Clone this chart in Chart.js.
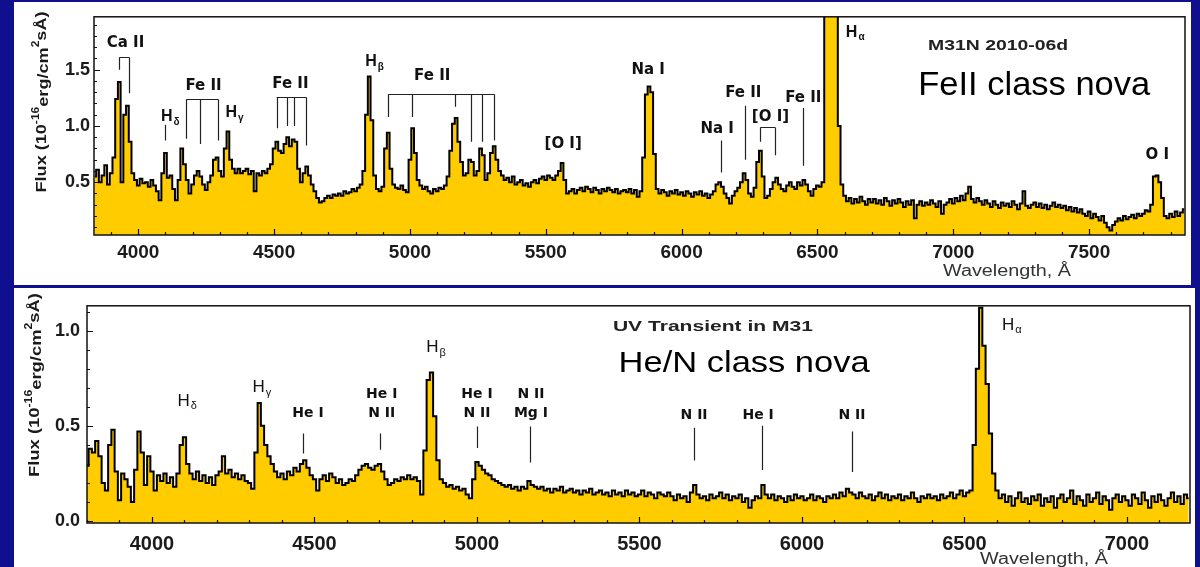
<!DOCTYPE html>
<html>
<head>
<meta charset="utf-8">
<script src="https://cdn.jsdelivr.net/npm/chart.js@4.4.0/dist/chart.umd.min.js"></script>
<style>
  html, body { margin: 0; padding: 0; }
  body { width: 1200px; height: 567px; background: #10108e; position: relative; overflow: hidden; }
  .panel { position: absolute; background: #fff; }
  #topPanel { left: 14px; top: 2px; width: 1177px; height: 283px; }
  #bottomPanel { left: 14px; top: 288px; width: 1181px; height: 279px; }
  canvas { display: block; }
</style>
</head>
<body>
<div class="panel" id="topPanel"><canvas id="topChart" width="1177" height="283"></canvas></div>
<div class="panel" id="bottomPanel"><canvas id="bottomChart" width="1181" height="279"></canvas></div>
<script>
// --- SPECTRUM DATA ---
// M31N 2010-06d, sampled every 10 A from 3840 A
const topStart = 3840, topStep = 10;
const topFlux = [
  0.55, 0.61, 0.50, 0.56, 0.65, 0.48, 0.58, 0.72, 1.24, 1.39,
  0.50, 1.10, 1.18, 0.86, 0.58, 0.52, 0.47, 0.53, 0.49, 0.50,
  0.46, 0.52, 0.47, 0.42, 0.34, 0.58, 0.76, 0.54, 0.56, 0.44,
  0.34, 0.52, 0.80, 0.66, 0.52, 0.40, 0.48, 0.56, 0.60, 0.55,
  0.48, 0.43, 0.50, 0.56, 0.70, 0.72, 0.60, 0.55, 0.80, 0.95,
  0.70, 0.62, 0.58, 0.62, 0.58, 0.60, 0.62, 0.57, 0.60, 0.42,
  0.58, 0.56, 0.60, 0.58, 0.62, 0.66, 0.80, 0.86, 0.78, 0.76,
  0.84, 0.90, 0.82, 0.88, 0.86, 0.62, 0.50, 0.58, 0.64, 0.56,
  0.48, 0.42, 0.36, 0.32, 0.33, 0.36, 0.38, 0.36, 0.39, 0.38,
  0.40, 0.38, 0.42, 0.40, 0.41, 0.44, 0.42, 0.45, 0.48, 0.60,
  1.10, 1.44, 1.05, 0.56, 0.44, 0.42, 0.46, 0.80, 0.94, 0.62,
  0.48, 0.45, 0.44, 0.47, 0.43, 0.41, 0.70, 0.98, 0.76, 0.52,
  0.47, 0.44, 0.46, 0.42, 0.40, 0.44, 0.42, 0.45, 0.44, 0.47,
  0.55, 0.78, 1.02, 1.07, 0.86, 0.68, 0.56, 0.58, 0.70, 0.68,
  0.56, 0.60, 0.80, 0.74, 0.52, 0.58, 0.76, 0.82, 0.70, 0.60,
  0.56, 0.52, 0.54, 0.50, 0.55, 0.48, 0.50, 0.52, 0.47, 0.49,
  0.46, 0.50, 0.52, 0.49, 0.53, 0.55, 0.52, 0.56, 0.54, 0.52,
  0.56, 0.60, 0.67, 0.52, 0.40, 0.42, 0.44, 0.40, 0.43, 0.45,
  0.42, 0.46, 0.44, 0.41, 0.45, 0.43, 0.40, 0.44, 0.42, 0.45,
  0.43, 0.41, 0.44, 0.40, 0.42, 0.43, 0.41, 0.44, 0.40, 0.43,
  0.37, 0.42, 0.72, 1.28, 1.35, 1.30, 0.75, 0.44, 0.40, 0.43,
  0.41, 0.38, 0.42, 0.40, 0.43, 0.39, 0.41, 0.38, 0.42, 0.40,
  0.37, 0.41, 0.39, 0.42, 0.38, 0.40, 0.36, 0.39, 0.42, 0.48,
  0.50, 0.46, 0.40, 0.36, 0.31, 0.38, 0.42, 0.45, 0.50, 0.58,
  0.52, 0.40, 0.37, 0.45, 0.68, 0.78, 0.55, 0.36, 0.38, 0.44,
  0.50, 0.54, 0.48, 0.44, 0.42, 0.47, 0.50, 0.46, 0.44, 0.50,
  0.47, 0.52, 0.48, 0.42, 0.38, 0.44, 0.47, 0.46, 0.50, 2.60,
  3.80, 4.20, 3.40, 2.30, 1.00, 0.48, 0.38, 0.33, 0.36, 0.31,
  0.35, 0.32, 0.37, 0.33, 0.30, 0.35, 0.32, 0.35, 0.31, 0.34,
  0.30, 0.36, 0.33, 0.29, 0.34, 0.31, 0.35, 0.32, 0.28, 0.33,
  0.30, 0.34, 0.18, 0.30, 0.33, 0.29, 0.32, 0.30, 0.34, 0.31,
  0.28, 0.33, 0.22, 0.30, 0.32, 0.35, 0.31, 0.36, 0.33, 0.38,
  0.34, 0.40, 0.46, 0.35, 0.32, 0.36, 0.33, 0.30, 0.34, 0.31,
  0.28, 0.33, 0.30, 0.27, 0.32, 0.29, 0.31, 0.28, 0.33, 0.30,
  0.26, 0.31, 0.42, 0.29, 0.27, 0.30, 0.32, 0.28, 0.31, 0.27,
  0.30, 0.26, 0.29, 0.32, 0.28, 0.30, 0.27, 0.29, 0.25, 0.28,
  0.24, 0.27, 0.23, 0.26, 0.22, 0.20, 0.24, 0.18, 0.22, 0.19,
  0.16, 0.20, 0.14, 0.10, 0.07, 0.12, 0.15, 0.18, 0.16, 0.20,
  0.17, 0.19, 0.21, 0.18, 0.22, 0.20, 0.22, 0.25, 0.24, 0.30,
  0.55, 0.56, 0.50, 0.36, 0.20, 0.18, 0.22, 0.19, 0.24, 0.20,
  0.23, 0.26
];
const topXTicks = [4000, 4500, 5000, 5500, 6000, 6500, 7000, 7500];
const topYTicks = [0.5, 1.0, 1.5];

// UV transient in M31, sampled every 10 A from 3800 A
const bottomStart = 3800, bottomStep = 10;
const bottomFlux = [
  0.29, 0.38, 0.36, 0.42, 0.34, 0.20, 0.16, 0.40, 0.48, 0.26,
  0.11, 0.25, 0.22, 0.18, 0.10, 0.27, 0.47, 0.36, 0.19, 0.34,
  0.26, 0.16, 0.24, 0.21, 0.25, 0.20, 0.23, 0.18, 0.25, 0.40,
  0.44, 0.30, 0.25, 0.22, 0.26, 0.21, 0.24, 0.20, 0.23, 0.19,
  0.24, 0.26, 0.34, 0.25, 0.27, 0.23, 0.25, 0.22, 0.24, 0.21,
  0.20, 0.17, 0.36, 0.62, 0.50, 0.40, 0.34, 0.30, 0.26, 0.23,
  0.25, 0.22, 0.26, 0.24, 0.28, 0.26, 0.30, 0.32, 0.28, 0.24,
  0.22, 0.16, 0.22, 0.24, 0.21, 0.25, 0.23, 0.20, 0.22, 0.19,
  0.20, 0.22, 0.21, 0.24, 0.27, 0.29, 0.30, 0.28, 0.27, 0.29,
  0.30, 0.26, 0.22, 0.19, 0.20, 0.22, 0.21, 0.23, 0.22, 0.24,
  0.22, 0.23, 0.21, 0.14, 0.37, 0.74, 0.78, 0.55, 0.32, 0.22,
  0.20, 0.18, 0.19, 0.17, 0.18, 0.16, 0.17, 0.14, 0.12, 0.22,
  0.31, 0.29, 0.27, 0.25, 0.24, 0.22, 0.21, 0.20, 0.19, 0.18,
  0.19, 0.17, 0.18, 0.16, 0.18, 0.17, 0.21, 0.19, 0.18, 0.17,
  0.18, 0.16, 0.17, 0.15, 0.17, 0.16, 0.18, 0.15, 0.16, 0.17,
  0.15, 0.16, 0.14, 0.16, 0.15, 0.17, 0.14, 0.15, 0.16, 0.14,
  0.15, 0.13, 0.16, 0.14, 0.15, 0.13, 0.16, 0.14, 0.15, 0.13,
  0.14, 0.16, 0.13, 0.15, 0.14, 0.12, 0.15, 0.14, 0.13, 0.15,
  0.13, 0.11, 0.14, 0.12, 0.13, 0.10, 0.15, 0.19, 0.14, 0.12,
  0.13, 0.11, 0.14, 0.12, 0.13, 0.15, 0.12, 0.14, 0.11, 0.13,
  0.12, 0.14, 0.10, 0.12, 0.07, 0.11, 0.13, 0.12, 0.19, 0.14,
  0.12, 0.14, 0.11, 0.13, 0.12, 0.10, 0.13, 0.11, 0.14, 0.12,
  0.13, 0.11, 0.12, 0.14, 0.11, 0.13, 0.12, 0.10, 0.13, 0.12,
  0.14, 0.12, 0.15, 0.13, 0.17, 0.15, 0.14, 0.12, 0.15, 0.13,
  0.12, 0.14, 0.11, 0.13, 0.15, 0.12, 0.14, 0.11, 0.13, 0.12,
  0.14, 0.11, 0.13, 0.12, 0.15, 0.12, 0.10, 0.13, 0.12, 0.14,
  0.12, 0.13, 0.11, 0.14, 0.12, 0.13, 0.15, 0.12, 0.14, 0.16,
  0.13, 0.15, 0.16, 0.40, 0.80, 1.12, 0.92, 0.72, 0.46, 0.25,
  0.16, 0.12, 0.14, 0.10, 0.13, 0.08, 0.12, 0.15, 0.10, 0.12,
  0.09, 0.13, 0.11, 0.14, 0.08, 0.12, 0.10, 0.13, 0.07, 0.12,
  0.14, 0.10, 0.12, 0.16, 0.09, 0.13, 0.11, 0.08, 0.14, 0.10,
  0.12, 0.15, 0.09, 0.13, 0.11, 0.06, 0.12, 0.14, 0.10, 0.13,
  0.11, 0.08, 0.14, 0.12, 0.09, 0.15, 0.11, 0.07, 0.13, 0.10,
  0.14, 0.11, 0.08, 0.12, 0.15, 0.10, 0.13, 0.09, 0.14, 0.12
];
const bottomXTicks = [4000, 4500, 5000, 5500, 6000, 6500, 7000];
const bottomYTicks = [0.0, 0.5, 1.0];

// --- LINE IDENTIFICATIONS ---
// [text, wavelength, flux]; "_" marks a subscript
const topLabels = [
  ['Ca II', 3953, 1.74], ['H_δ', 4118, 1.08], ['Fe II', 4240, 1.355],
  ['H_γ', 4354, 1.115], ['Fe II', 4560, 1.37], ['H_β', 4870, 1.57],
  ['Fe II', 5082, 1.44], ['[O I]', 5564, 0.84], ['Na I', 5877, 1.50],
  ['Na I', 6131, 0.97], ['Fe II', 6227, 1.29], ['[O I]', 6327, 1.08],
  ['Fe II', 6448, 1.25], ['H_α', 6639, 1.83], ['O I', 7751, 0.74]
];
// [wavelength, flux top, flux bottom]
const topLines = [[4100, 1.01, 0.87], [6146, 0.87, 0.585], [6235, 1.18, 0.70], [6448, 1.16, 0.645]];
// [leg wavelengths, bar flux, leg end fluxes]
const topBrackets = [
  [[3930, 3967], 1.61, [1.50, 1.29]],
  [[4177, 4229, 4295], 1.235, [0.885, 0.84, 0.87]],
  [[4509, 4549, 4575, 4619], 1.253, [0.98, 1.0, 1.0, 0.825]],
  [[4920, 5009, 5167, 5226, 5267, 5311], 1.28, [1.08, 1.08, 1.17, 0.86, 0.86, 0.87]],
  [[6290, 6345], 0.99, [0.86, 0.74]]
];

const bottomLabels = [
  ['H_δ', 4108, 0.63], ['H_γ', 4338, 0.70], ['He I', 4480, 0.566],
  ['He I', 4707, 0.667], ['N II', 4707, 0.566], ['H_β', 4874, 0.91],
  ['He I', 5000, 0.667], ['N II', 5000, 0.566],
  ['N II', 5166, 0.667], ['Mg I', 5166, 0.566],
  ['N II', 5668, 0.556], ['He I', 5865, 0.556], ['N II', 6154, 0.556],
  ['H_α', 6646, 1.028]
];
const bottomLines = [
  [4465, 0.46, 0.355], [4702, 0.46, 0.375], [5000, 0.496, 0.384], [5163, 0.496, 0.308],
  [5668, 0.49, 0.318], [5877, 0.50, 0.268], [6153, 0.47, 0.258]
];

// --- DRAWING HELPERS ---
const SANS = '"Liberation Sans", Arial, sans-serif';
const WIDE = '"DejaVu Sans", sans-serif';

function spectrumPoints(start, step, flux) {
    return flux.map((v, i) => ({ x: start + i * step, y: v }));
}

function drawLabel(ctx, text, px, py, font, subFont) {
    const parts = text.split('_');
    ctx.textBaseline = 'middle';
    if (parts.length === 1) {
        ctx.font = font;
        ctx.textAlign = 'center';
        ctx.fillText(text, px, py);
        return;
    }
    ctx.font = font;
    const w1 = ctx.measureText(parts[0]).width;
    ctx.font = subFont;
    const w2 = ctx.measureText(parts[1]).width;
    const x0 = px - (w1 + w2 + 1) / 2;
    ctx.textAlign = 'left';
    ctx.font = font;
    ctx.fillText(parts[0], x0, py);
    ctx.font = subFont;
    ctx.fillText(parts[1], x0 + w1 + 1, py + 5);
}

// text squeezed or stretched horizontally to a given width
function wideText(ctx, text, cx, cy, font, width) {
    ctx.font = font;
    const w = ctx.measureText(text).width;
    ctx.save();
    ctx.translate(cx, cy);
    ctx.scale(width / w, 1);
    ctx.textAlign = 'center';
    ctx.textBaseline = 'middle';
    ctx.fillText(text, 0, 0);
    ctx.restore();
}

function drawFluxTitle(ctx, cx, cy, length) {
    const pieces = [
        ['Flux (10', 0, 'bold 15px ' + SANS],
        ['-16', -6, 'bold 10px ' + SANS],
        ['erg/cm', 2, 'bold 15px ' + SANS],
        ['2', -6, 'bold 10px ' + SANS],
        ['sÅ)', 0, 'bold 15px ' + SANS]
    ];
    let total = 0;
    const widths = pieces.map(([t, , f]) => {
        ctx.font = f;
        const w = ctx.measureText(t).width;
        total += w;
        return w;
    });
    ctx.save();
    ctx.translate(cx, cy);
    ctx.rotate(-Math.PI / 2);
    ctx.scale(length / total, 1);
    ctx.textAlign = 'left';
    ctx.textBaseline = 'middle';
    let pos = -total / 2;
    pieces.forEach(([t, dy, f], i) => {
        ctx.font = f;
        ctx.fillText(t, pos, dy);
        pos += widths[i];
    });
    ctx.restore();
}

function spectrumMarks(m) {
    return {
        id: 'spectrumMarks',
        afterDraw(chart) {
            const { ctx, chartArea: a, scales: { x, y } } = chart;
            ctx.save();

            // frame and inward ticks
            ctx.strokeStyle = '#111';
            ctx.lineWidth = 1.5;
            ctx.strokeRect(a.left, a.top, a.right - a.left, a.bottom - a.top);
            ctx.lineWidth = 1.2;
            ctx.beginPath();
            for (let v = Math.ceil(x.min / 100) * 100; v <= x.max; v += 100) {
                const px = Math.round(x.getPixelForValue(v)) + 0.5;
                const len = v % 500 === 0 ? 6 : 3;
                ctx.moveTo(px, a.bottom);
                ctx.lineTo(px, a.bottom - len);
            }
            for (let k = Math.ceil(y.min * 10); k <= y.max * 10; k++) {
                const py = Math.round(y.getPixelForValue(k / 10)) + 0.5;
                const len = k % 5 === 0 ? 6 : 3;
                ctx.moveTo(a.left, py);
                ctx.lineTo(a.left + len, py);
            }
            ctx.stroke();

            // identification ticks and brackets
            ctx.strokeStyle = '#222';
            ctx.lineWidth = 1.2;
            ctx.beginPath();
            m.lines.forEach(([w, f1, f2]) => {
                const px = Math.round(x.getPixelForValue(w)) + 0.5;
                ctx.moveTo(px, y.getPixelForValue(f1));
                ctx.lineTo(px, y.getPixelForValue(f2));
            });
            m.brackets.forEach(([legs, bar, ends]) => {
                const by = Math.round(y.getPixelForValue(bar)) + 0.5;
                ctx.moveTo(x.getPixelForValue(legs[0]), by);
                ctx.lineTo(x.getPixelForValue(legs[legs.length - 1]), by);
                legs.forEach((w, i) => {
                    const px = Math.round(x.getPixelForValue(w)) + 0.5;
                    ctx.moveTo(px, by);
                    ctx.lineTo(px, y.getPixelForValue(ends[i]));
                });
            });
            ctx.stroke();

            // identification labels
            ctx.fillStyle = '#111';
            m.labels.forEach(([text, w, f]) => {
                const isH = text.startsWith('H_');
                drawLabel(ctx, text, x.getPixelForValue(w), y.getPixelForValue(f),
                    isH ? m.hFont : m.labelFont, m.subFont);
            });

            // notes
            m.notes.forEach(([text, w, f, font, width, color]) => {
                ctx.fillStyle = color;
                wideText(ctx, text, x.getPixelForValue(w), y.getPixelForValue(f), font, width);
            });

            // axis titles
            ctx.fillStyle = '#1a1a1a';
            drawFluxTitle(ctx, m.yTitle[0], m.yTitle[1], m.yTitle[2]);
            ctx.fillStyle = '#333';
            wideText(ctx, 'Wavelength, Å', m.xTitle[0], m.xTitle[1], '16px ' + SANS, 128);

            ctx.restore();
        }
    };
}

function buildSpectrumChart(canvasId, o) {
    const tickFont = { family: SANS, weight: 'bold', size: o.tickSize };
    return new Chart(document.getElementById(canvasId), {
        type: 'line',
        data: {
            datasets: [{
                data: spectrumPoints(o.start, o.step, o.flux),
                stepped: 'middle',
                borderColor: '#000',
                borderWidth: 2,
                backgroundColor: '#ffcc00',
                fill: 'start',
                pointRadius: 0
            }]
        },
        options: {
            responsive: false,
            animation: false,
            devicePixelRatio: 1,
            layout: { padding: o.padding },
            plugins: { legend: { display: false }, tooltip: { enabled: false } },
            scales: {
                x: {
                    type: 'linear', min: o.xMin, max: o.xMax,
                    afterBuildTicks: s => { s.ticks = o.xTicks.map(v => ({ value: v })); },
                    afterFit: s => { s.height = o.xHeight; },
                    grid: { display: false, drawTicks: false },
                    border: { display: false },
                    ticks: { font: tickFont, color: '#1b1b1b', padding: o.xPad, maxRotation: 0, autoSkip: false, callback: v => String(v) }
                },
                y: {
                    min: o.yMin, max: o.yMax,
                    afterBuildTicks: s => { s.ticks = o.yTicks.map(v => ({ value: v })); },
                    afterFit: s => { s.width = o.yWidth; },
                    grid: { display: false, drawTicks: false },
                    border: { display: false },
                    ticks: { font: { family: SANS, weight: 'bold', size: 18 }, color: '#1b1b1b', padding: o.yPad, callback: v => v.toFixed(1) }
                }
            }
        },
        plugins: [spectrumMarks(o.marks)]
    });
}

// --- INITIALIZATION ---
buildSpectrumChart('topChart', {
    start: topStart, step: topStep, flux: topFlux,
    xMin: 3837, xMax: 7853, yMin: 0.03, yMax: 1.97,
    xTicks: topXTicks, yTicks: topYTicks,
    padding: { top: 6, right: 6, left: 0, bottom: 0 },
    xHeight: 50, yWidth: 80, xPad: 6, yPad: 4, tickSize: 19,
    marks: {
        labels: topLabels, lines: topLines, brackets: topBrackets,
        labelFont: 'bold 15px ' + WIDE, hFont: 'bold 16px ' + SANS, subFont: 'bold 10px ' + SANS,
        notes: [
            ['M31N 2010-06d', 7165, 1.71, 'bold 14px ' + SANS, 140, '#222'],
            ['FeII class nova', 7298, 1.355, '33px ' + SANS, 232, '#000']
        ],
        yTitle: [28, 100, 181],
        xTitle: [993, 270]
    }
});

buildSpectrumChart('bottomChart', {
    start: bottomStart, step: bottomStep, flux: bottomFlux,
    xMin: 3800, xMax: 7194, yMin: -0.01, yMax: 1.13,
    xTicks: bottomXTicks, yTicks: bottomYTicks,
    padding: { top: 9, right: 5, left: 0, bottom: 0 },
    xHeight: 44, yWidth: 73, xPad: 9, yPad: 7, tickSize: 20,
    marks: {
        labels: bottomLabels, lines: bottomLines, brackets: [],
        labelFont: 'bold 14px ' + WIDE, hFont: '17px ' + SANS, subFont: '11px ' + SANS,
        notes: [
            ['UV Transient in M31', 5726, 1.018, 'bold 15px ' + SANS, 200, '#222'],
            ['He/N class nova', 5822, 0.826, '30px ' + SANS, 251, '#000']
        ],
        yTitle: [21, 97, 184],
        xTitle: [1030, 272]
    }
});
</script>
</body>
</html>
